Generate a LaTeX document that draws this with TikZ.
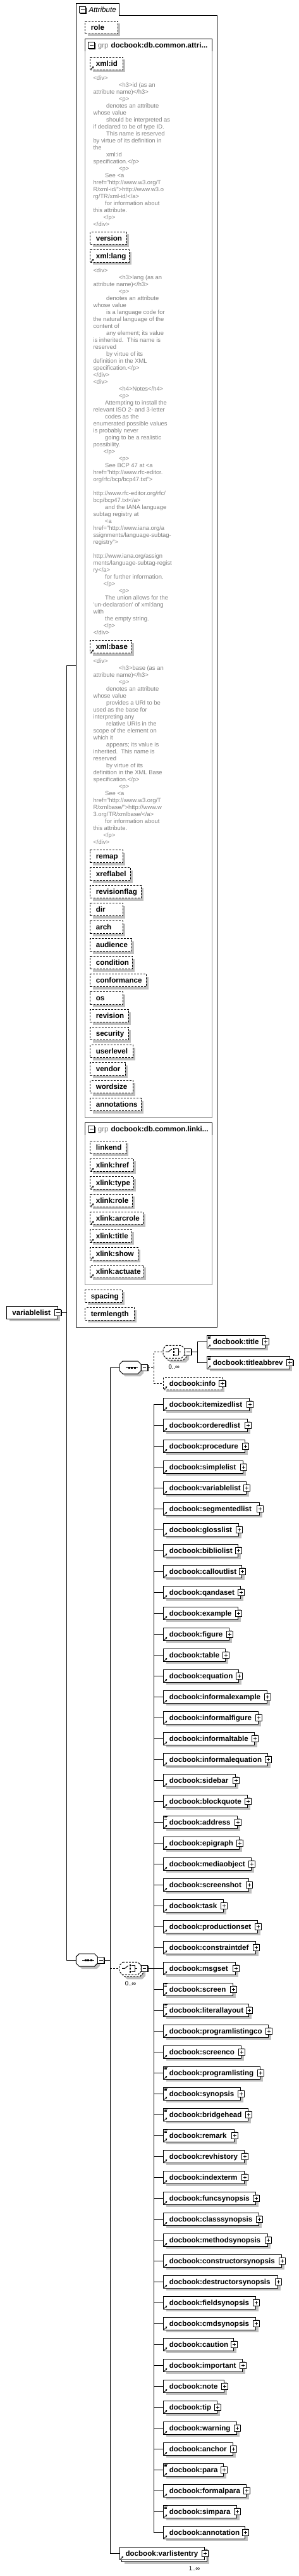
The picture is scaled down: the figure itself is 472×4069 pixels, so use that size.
\documentclass[tikz,border=0pt]{standalone}
\usepackage{fontspec}
\setmainfont{Liberation Sans}
\usetikzlibrary{shadows,arrows.meta}
\definecolor{shadowgray}{RGB}{192,192,192}
\definecolor{anngray}{RGB}{128,128,128}
\definecolor{boxgray}{RGB}{136,136,136}
\newcommand\lblfont{\fontsize{11.6}{13}\selectfont\bfseries}
\newcommand\annfont{\fontsize{9.4}{11}\selectfont}
\newcommand\cntfont{\fontsize{9.6}{11}\selectfont}
\tikzset{
 dsh/.style={dash pattern=on 3pt off 2pt},
 eb/.style={draw, fill=white, anchor=west, minimum height=20pt, inner sep=0pt},
 shd/.style={general shadow={fill=shadowgray, shadow xshift=4pt, shadow yshift=-4pt}},
 ebox/.style={eb, shd},
 abox/.style={eb, dsh, shd},
 lbl/.style={anchor=base west, inner sep=0pt, font=\lblfont},
 grpl/.style={anchor=base west, inner sep=0pt, font=\fontsize{11.6}{13}\selectfont, text=anngray},
 ann/.style={anchor=base west, inner sep=0pt, font=\annfont, text=anngray},
 cnt/.style={anchor=base west, inner sep=0pt, font=\cntfont},
 pmbox/.style={draw, fill=white, minimum size=10pt, inner sep=0pt, general shadow={fill=black, shadow xshift=1pt, shadow yshift=-1pt}},
 plus/.style={pmbox, path picture={\draw ([xshift=2.2pt]path picture bounding box.west) -- ([xshift=-2.2pt]path picture bounding box.east); \draw ([yshift=-2.2pt]path picture bounding box.north) -- ([yshift=2.2pt]path picture bounding box.south);}},
 minus/.style={pmbox, path picture={\draw ([xshift=2.2pt]path picture bounding box.west) -- ([xshift=-2.2pt]path picture bounding box.east);}},
 sym/.style={minimum width=34pt, minimum height=20pt, inner sep=0pt},
}
\newcommand\refarrow[1]{\draw[line width=0.9pt, -{Triangle[length=2.4pt,width=2.8pt]}] ([xshift=1.6pt,yshift=1.4pt]#1.south west) -- ++(4.4pt,4.4pt);}
\newcommand\txtlines[1]{\foreach \dy/\len in {1.6/5.5,3.4/4.5,5.2/4.5}{\draw[line width=0.8pt] ([xshift=1.4pt,yshift=-\dy pt]#1.north west) -- ++(\len pt,0pt);}}
\newcommand\elbox[6][]{%
 \node[ebox,#1,minimum width={(#5)-(#3)}] (#2) at (#3,#4) {};
 \node[lbl] (#2-t) at ([xshift=9pt,yshift=-4pt]#2.west) {#6};
 \node[plus] (#2-p) at (#2.east) {};
 \refarrow{#2}}
\newcommand\atbox[5]{%
 \node[abox,minimum width={(#4)-(#2)}] (#1) at (#2,{#3+10}) {};
 \node[lbl] (#1-t) at ([xshift=9pt,yshift=-4pt]#1.west) {#5};}
\newcommand\octo[5][]{\draw[#1] ({#2+5},#3) -- ({#4-5},#3) -- (#4,{#3+5}) -- (#4,{#5-5}) -- ({#4-5},#5) -- ({#2+5},#5) -- (#2,{#5-5}) -- (#2,{#3+5}) -- cycle;}
\newcommand\seqicon[1]{\draw ([xshift=-7pt]#1.center) -- ([xshift=12pt]#1.center);
 \foreach \dx in {-2,2.5,7}{\fill ([xshift=\dx pt]#1.center) +(-1.5pt,-1.5pt) rectangle +(1.5pt,1.5pt);}}
\newcommand\choiceicon[1]{%
 \draw ([xshift=-13pt]#1.center) -- ([xshift=-8.6pt]#1.center) -- ([xshift=-3.3pt,yshift=4.3pt]#1.center);
 \foreach \dy in {-5,0,5}{\fill ([yshift=\dy pt]#1.center) +(-1.3pt,-1.3pt) rectangle +(1.3pt,1.3pt);}
 \draw ([xshift=1.5pt,yshift=5pt]#1.center) -- ([xshift=7pt,yshift=5pt]#1.center) -- ([xshift=7pt,yshift=-5pt]#1.center) -- ([xshift=1.5pt,yshift=-5pt]#1.center);
 \draw ([xshift=7pt]#1.center) -- ([xshift=11pt]#1.center);}
\newcount\annc
\def\anny{0}
\newcommand\annat[1]{\xdef\anny{#1}}
\newcommand\al[2]{\global\advance\annc by 1\relax
 \node[ann] (ann\the\annc) at ({147+#1},\anny) {#2};
 \pgfmathsetmacro\tmpy{\anny+11}\xdef\anny{\tmpy}}
\newcommand\askip{\pgfmathsetmacro\tmpy{\anny+11}\xdef\anny{\tmpy}}
\newcommand\iA{40.7}
\newcommand\iB{20.7}
\newcommand\iC{18.7}
\newcommand\iD{16}
\begin{document}
\begin{tikzpicture}[x=1pt,y=-1pt,line width=1pt]
\useasboundingbox (0,0) rectangle (472,4069);
% Attribute container
\draw (120.3,2096) -- (120.3,5.3) -- (188.3,5.3) -- (188.3,24.3) -- (343.3,24.3) -- (343.3,2096) -- cycle;
\node[minus] (attr-m) at (130.8,15.5) {};
\node[anchor=base west, inner sep=0pt, font=\fontsize{11.6}{13}\selectfont\itshape] (attr-t) at (140,19.5) {Attribute};
\coordinate (attrin) at (120.3,1051.3);
\atbox{role}{134.3}{33.3}{185.7}{role}
% group 1
\draw[boxgray] (134.3,61.3) rectangle (335.7,1765);
\draw (134.3,80.7) -- (134.3,61.3) -- (335.7,61.3) -- (335.7,80.7);
\node[minus] (g1-m) at (144.8,71.8) {};
\node[grpl] (g1-a) at (154.3,75.5) {grp};
\node[lbl] (g1-b) at (175,75.5) {docbook:db.common.attri...};
\atbox{xmlid}{142.3}{90.3}{193.7}{xml:id}\refarrow{xmlid}
\annat{126}
\al{0}{<div>}
\al{\iA}{<h3>id (as an}
\al{0}{attribute name)</h3>}
\al{\iA}{<p>}
\al{\iB}{denotes an attribute}
\al{0}{whose value}
\al{\iB}{should be interpreted as}
\al{0}{if declared to be of type ID.}
\al{\iB}{This name is reserved}
\al{0}{by virtue of its definition in}
\al{0}{the}
\al{\iB}{xml:id}
\al{0}{specification.</p>}
\al{\iA}{<p>}
\al{\iC}{See <a}
\al{0}{href="http://www.w3.org/T}
\al{0}{R/xml-id/">http://www.w3.o}
\al{0}{rg/TR/xml-id/</a>}
\al{\iC}{for information about}
\al{0}{this attribute.}
\al{\iD}{</p>}
\al{0}{</div>}
\atbox{version}{142.3}{366.3}{199.7}{version}
\atbox{xmllang}{142.3}{394.3}{203.7}{xml:lang}\refarrow{xmllang}
\annat{430}
\al{0}{<div>}
\al{\iA}{<h3>lang (as an}
\al{0}{attribute name)</h3>}
\al{\iA}{<p>}
\al{\iB}{denotes an attribute}
\al{0}{whose value}
\al{\iB}{is a language code for}
\al{0}{the natural language of the}
\al{0}{content of}
\al{\iB}{any element; its value}
\al{0}{is inherited.\ \ This name is}
\al{0}{reserved}
\al{\iB}{by virtue of its}
\al{0}{definition in the XML}
\al{0}{specification.</p>}
\al{0}{</div>}
\al{0}{<div>}
\al{\iA}{<h4>Notes</h4>}
\al{\iA}{<p>}
\al{\iC}{Attempting to install the}
\al{0}{relevant ISO 2- and 3-letter}
\al{\iC}{codes as the}
\al{0}{enumerated possible values}
\al{0}{is probably never}
\al{\iC}{going to be a realistic}
\al{0}{possibility.}
\al{\iD}{</p>}
\al{\iA}{<p>}
\al{\iC}{See BCP 47 at <a}
\al{0}{href="http://www.rfc-editor.}
\al{0}{org/rfc/bcp/bcp47.txt">}
\askip
\al{0}{http://www.rfc-editor.org/rfc/}
\al{0}{bcp/bcp47.txt</a>}
\al{\iC}{and the IANA language}
\al{0}{subtag registry at}
\al{\iC}{<a}
\al{0}{href="http://www.iana.org/a}
\al{0}{ssignments/language-subtag-}
\al{0}{registry">}
\askip
\al{0}{http://www.iana.org/assign}
\al{0}{ments/language-subtag-regist}
\al{0}{ry</a>}
\al{\iC}{for further information.}
\al{\iD}{</p>}
\al{\iA}{<p>}
\al{\iC}{The union allows for the}
\al{0}{\textquotesingle un-declaration\textquotesingle\ of xml:lang}
\al{0}{with}
\al{\iC}{the empty string.}
\al{\iD}{</p>}
\al{0}{</div>}
\atbox{xmlbase}{142.3}{1011.7}{207.7}{xml:base}\refarrow{xmlbase}
\annat{1047}
\al{0}{<div>}
\al{\iA}{<h3>base (as an}
\al{0}{attribute name)</h3>}
\al{\iA}{<p>}
\al{\iB}{denotes an attribute}
\al{0}{whose value}
\al{\iB}{provides a URI to be}
\al{0}{used as the base for}
\al{0}{interpreting any}
\al{\iB}{relative URIs in the}
\al{0}{scope of the element on}
\al{0}{which it}
\al{\iB}{appears; its value is}
\al{0}{inherited.\ \ This name is}
\al{0}{reserved}
\al{\iB}{by virtue of its}
\al{0}{definition in the XML Base}
\al{0}{specification.</p>}
\al{\iA}{<p>}
\al{\iC}{See <a}
\al{0}{href="http://www.w3.org/T}
\al{0}{R/xmlbase/">http://www.w}
\al{0}{3.org/TR/xmlbase/</a>}
\al{\iC}{for information about}
\al{0}{this attribute.}
\al{\iD}{</p>}
\al{0}{</div>}
\foreach \nm/\rt [count=\i from 0] in {remap/193.7, xreflabel/205.7, revisionflag/222.7, dir/193.7, arch/193.7, audience/207.7, condition/208.7, conformance/230.7, os/193.7, revision/202.7, security/202.7, userlevel/209.7, vendor/197.7, wordsize/209.7, annotations/222.7}
 {\atbox{a\i}{142.3}{1342.7+28*\i}{\rt}{\nm}}
% group 2
\draw[boxgray] (134.3,1773.3) rectangle (335.7,2029.3);
\draw (134.3,1792.7) -- (134.3,1773.3) -- (335.7,1773.3) -- (335.7,1792.7);
\node[minus] (g2-m) at (144.8,1783.8) {};
\node[grpl] (g2-a) at (154.3,1787.5) {grp};
\node[lbl] (g2-b) at (175,1787.5) {docbook:db.common.linki...};
\foreach \nm/\rt/\rf [count=\i from 0] in {linkend/198.7/0, xlink:href/210.7/1, xlink:type/210.7/1, xlink:role/208.7/1, xlink:arcrole/225.7/1, xlink:title/207.7/1, xlink:show/217.7/1, xlink:actuate/226.7/1}
 {\atbox{b\i}{142.3}{1802.3+28*\i}{\rt}{\nm}\ifnum\rf=1 \refarrow{b\i}\fi}
\atbox{spacing}{134.3}{2037.3}{192.7}{spacing}
\atbox{termlength}{134.3}{2065.3}{211.7}{termlength}
% root
\node[ebox, minimum width=80.4pt] (vl) at (10.3,2073.3) {};
\node[lbl] (vl-t) at ([xshift=8.7pt,yshift=-4pt]vl.west) {variablelist};
\node[minus] (vl-m) at (vl.east) {};
% outer sequence
\octo[fill=shadowgray,draw=none]{124.3}{3090}{158.3}{3110}
\octo[fill=white]{120.3}{3086}{154.3}{3106}
\node[sym] (seq2) at (137.3,3096) {};
\seqicon{seq2}
\node[minus] (seq2-m) at (159.8,3096) {};
\coordinate (j1) at (105.3,2073.3);
\draw (vl-m.east) -- (j1);
\draw (j1) |- (attrin);
\draw (j1) |- (seq2.west);
% inner sequence
\octo[fill=shadowgray,draw=none]{193}{2154}{227}{2174}
\octo[fill=white]{189}{2150}{223}{2170}
\node[sym] (seq1) at (206,2160) {};
\seqicon{seq1}
\node[minus] (seq1-m) at (228.5,2160) {};
% choice 1
\octo[fill=shadowgray,draw=none]{265}{2132.3}{299}{2152.3}
\octo[fill=white,dsh]{261}{2128.3}{295}{2148.3}
\octo[fill=white,dsh]{258}{2125.3}{292}{2145.3}
\node[sym] (ch1) at (275,2135.3) {};
\choiceicon{ch1}
\node[minus] (ch1-m) at (297.8,2135.3) {};
\node[cnt] (ch1-c) at (266,2162.5) {0..∞};
% choice 2
\octo[fill=shadowgray,draw=none]{196}{3106.3}{230}{3126.3}
\octo[fill=white,dsh]{192}{3102.3}{226}{3122.3}
\octo[fill=white,dsh]{189}{3099.3}{223}{3119.3}
\node[sym] (ch2) at (206,3109.3) {};
\choiceicon{ch2}
\node[minus] (ch2-m) at (228.5,3109.3) {};
\node[cnt] (ch2-c) at (197.3,3136) {0..∞};
% title choice children
\elbox{title}{327.3}{2119.3}{419.3}{docbook:title}\txtlines{title}
\elbox{tabbrev}{327.3}{2152.3}{457.7}{docbook:titleabbrev}\txtlines{tabbrev}
\elbox[dsh]{info}{258.3}{2185.3}{350.7}{docbook:info}
% varlistentry
\node[ebox, minimum width=134.3pt] (vle-back) at (192.3,4036.3) {};
\node[eb, minimum width=134.3pt] (vle) at (189,4033.3) {};
\node[lbl] (vle-t) at ([xshift=9pt,yshift=-4pt]vle.west) {docbook:varlistentry};
\node[plus] (vle-p) at (vle.east) {};
\refarrow{vle}
\node[cnt] (vle-c) at (298.3,4060.5) {1..∞};
% connectors of sequences
\coordinate (j2) at (174.3,3096);
\draw (seq2-m.east) -- (j2);
\draw (j2) |- (seq1.west);
\draw (j2) |- (vle.west);
\draw[dsh] (j2 |- ch2.west) -- (ch2.west);
\coordinate (j3) at (243.7,2160);
\draw[dsh] (seq1-m.east) -- (j3);
\draw[dsh] (j3) |- (ch1.west);
\draw[dsh] (j3) |- (info.west);
\coordinate (j4) at (312.3,2135.3);
\draw (ch1-m.east) -- (j4);
\draw (j4) |- (title.west);
\draw (j4) |- (tabbrev.west);
\coordinate (j5) at (243.7,3109.3);
\foreach \nm/\rt/\tl [count=\i from 0] in {itemizedlist/394.3/0, orderedlist/391.3/0, procedure/387.3/0, simplelist/384.3/0, variablelist/389.3/0, segmentedlist/410.3/0, glosslist/377.3/0, bibliolist/376.3/0, calloutlist/382.3/0, qandaset/380.3/0, example/376.3/0, figure/362.3/0, table/356.3/0, equation/377.3/0, informalexample/422.3/0, informalfigure/408.3/0, informaltable/402.3/0, informalequation/423.3/0, sidebar/372.3/0, blockquote/391.3/0, address/375.3/1, epigraph/378.3/0, mediaobject/397.3/0, screenshot/393.3/0, task/353.3/0, productionset/407.3/0, constraintdef/404.3/0, msgset/372.3/0, screen/368.3/1, literallayout/393.3/1, programlistingco/424.3/0, screenco/381.3/0, programlisting/411.3/1, synopsis/380.3/1, bridgehead/392.3/1, remark/370.3/1, revhistory/386.3/0, indexterm/386.3/0, funcsynopsis/404.3/0, classsynopsis/409.3/0, methodsynopsis/423.3/0, constructorsynopsis/445.3/0, destructorsynopsis/439.3/0, fieldsynopsis/404.3/0, cmdsynopsis/404.3/0, caution/369.3/0, important/383.3/0, note/354.3/0, tip/343.3/0, warning/374.3/0, anchor/368.3/0, para/353.3/1, formalpara/389.3/0, simpara/374.3/1, annotation/387.3/0}
{\pgfmathsetmacro\cy{2218.3+33*\i}
 \elbox{e\i}{258.3}{\cy}{\rt}{docbook:\nm}
 \ifnum\tl=1 \txtlines{e\i}\fi
 \draw (j5 |- e\i.west) -- (e\i.west);}
\draw (ch2-m.east) -- (j5);
\draw (j5) |- (e0.west);
\draw (j5) |- (e54.west);
\end{tikzpicture}
\end{document}
